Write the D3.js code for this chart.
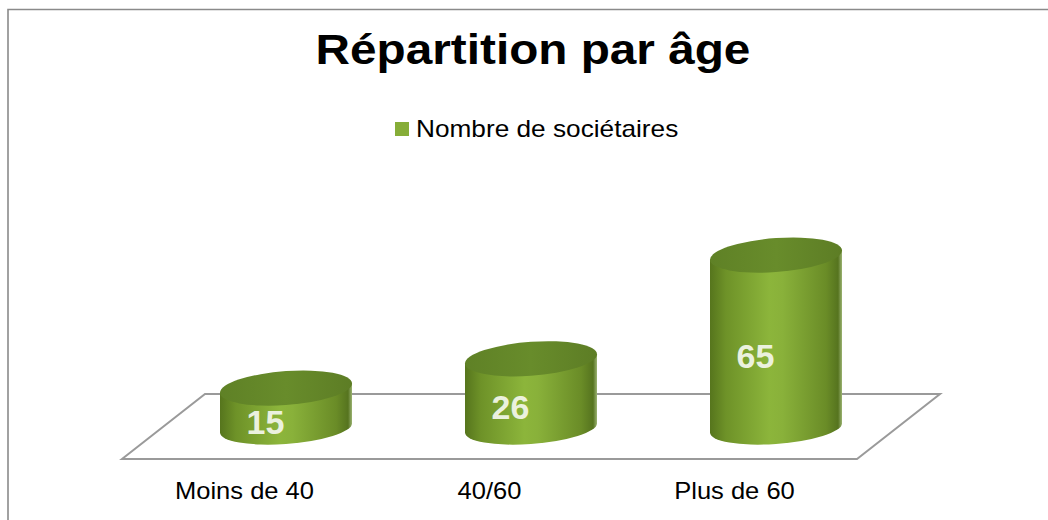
<!DOCTYPE html>
<html>
<head>
<meta charset="utf-8">
<script src="https://cdn.jsdelivr.net/npm/d3@7"></script>
<style>
  html, body { margin: 0; padding: 0; background: #fff; }
  svg { display: block; font-family: "Liberation Sans", Arial, sans-serif; }
</style>
</head>
<body>
<div id="chart"></div>
<script>
// Données
const categories = ["Moins de 40", "40/60", "Plus de 60"];
const values = [15, 26, 65];
const seriesName = "Nombre de sociétaires";
const chartTitle = "Répartition par âge";

function drawChart() {
    const width = 1048, height = 520;
    const stretch = 1.11; // le texte est un peu élargi dans l'original

    const svg = d3.select('#chart').append('svg')
        .attr('width', width)
        .attr('height', height);

    const defs = svg.append('defs');
    const side = defs.append('linearGradient')
        .attr('id', 'cylSide')
        .attr('x1', 0).attr('x2', 1).attr('y1', 0).attr('y2', 0);
    [[0, '#56751d'], [0.12, '#6e9228'], [0.45, '#8cb53b'], [0.55, '#89b13a'],
     [0.88, '#6a8c27'], [0.97, '#56741f'], [1, '#9bb372']].forEach(s => {
        side.append('stop').attr('offset', s[0]).attr('stop-color', s[1]);
    });
    const top = defs.append('linearGradient')
        .attr('id', 'cylTop')
        .attr('x1', 0).attr('x2', 1).attr('y1', 0).attr('y2', 0);
    [[0, '#5f8126'], [0.5, '#688c2b'], [1, '#5d7d25']].forEach(s => {
        top.append('stop').attr('offset', s[0]).attr('stop-color', s[1]);
    });

    // Cadre (coupé à droite et en bas)
    svg.append('path')
        .attr('d', `M8,${height + 5} V9.5 H${width + 5}`)
        .attr('fill', 'none')
        .attr('stroke', '#8a8a8a')
        .attr('stroke-width', 1.6);

    // Titre
    svg.append('text')
        .attr('transform', `translate(533,64) scale(${stretch},1)`)
        .attr('text-anchor', 'middle')
        .attr('font-size', 43)
        .attr('font-weight', 'bold')
        .attr('fill', '#000')
        .text(chartTitle);

    // Légende
    svg.append('rect')
        .attr('x', 395).attr('y', 122)
        .attr('width', 14).attr('height', 14)
        .attr('fill', '#86ad38');
    svg.append('text')
        .attr('transform', `translate(416,137) scale(1.14,1)`)
        .attr('font-size', 23)
        .attr('fill', '#000')
        .text(seriesName);

    // Sol en perspective
    const front = 459, back = 394, depth = 83;
    const x = d3.scaleBand()
        .domain(categories)
        .range([122, 857])
        .paddingInner(0)
        .paddingOuter(0);
    const y = d3.scaleLinear()
        .domain([0, 70])
        .range([428, 428 - 70 * 2.66]);

    svg.append('path')
        .attr('d', `M${x.range()[0]},${front} L${x.range()[0] + depth},${back} ` +
                   `L${x.range()[1] + depth},${back} L${x.range()[1]},${front} Z`)
        .attr('fill', 'none')
        .attr('stroke', '#9a9a9a')
        .attr('stroke-width', 2);

    // Cylindres
    const rx = 66, ry = 16;
    const cyl = svg.selectAll('.cyl')
        .data(values)
        .enter()
        .append('g')
        .attr('class', 'cyl')
        .attr('transform', (d, i) => `translate(${x(categories[i]) + x.bandwidth() / 2 + depth / 2},0) skewY(-4)`);

    cyl.append('path')
        .attr('d', d => `M${-rx},${y(d)} L${-rx},${y(0)} A${rx},${ry} 0 0 0 ${rx},${y(0)} L${rx},${y(d)} Z`)
        .attr('fill', 'url(#cylSide)');

    cyl.append('ellipse')
        .attr('cx', 0)
        .attr('cy', d => y(d))
        .attr('rx', rx)
        .attr('ry', ry + 1)
        .attr('fill', 'url(#cylTop)');

    // Valeurs
    svg.selectAll('.val')
        .data(values)
        .enter()
        .append('text')
        .attr('class', 'val')
        .attr('x', (d, i) => x(categories[i]) + x.bandwidth() / 2 + 21)
        .attr('y', d => (y(d) + y(0)) / 2 + 26)
        .attr('text-anchor', 'middle')
        .attr('font-size', 34)
        .attr('font-weight', 'bold')
        .attr('fill', '#ebf1de')
        .text(d => d);

    // Étiquettes des catégories
    svg.selectAll('.cat')
        .data(categories)
        .enter()
        .append('text')
        .attr('class', 'cat')
        .attr('transform', d => `translate(${x(d) + x.bandwidth() / 2},499) scale(${stretch},1)`)
        .attr('text-anchor', 'middle')
        .attr('font-size', 23)
        .attr('fill', '#000')
        .text(d => d);
}

document.addEventListener('DOMContentLoaded', drawChart);
</script>
</body>
</html>
